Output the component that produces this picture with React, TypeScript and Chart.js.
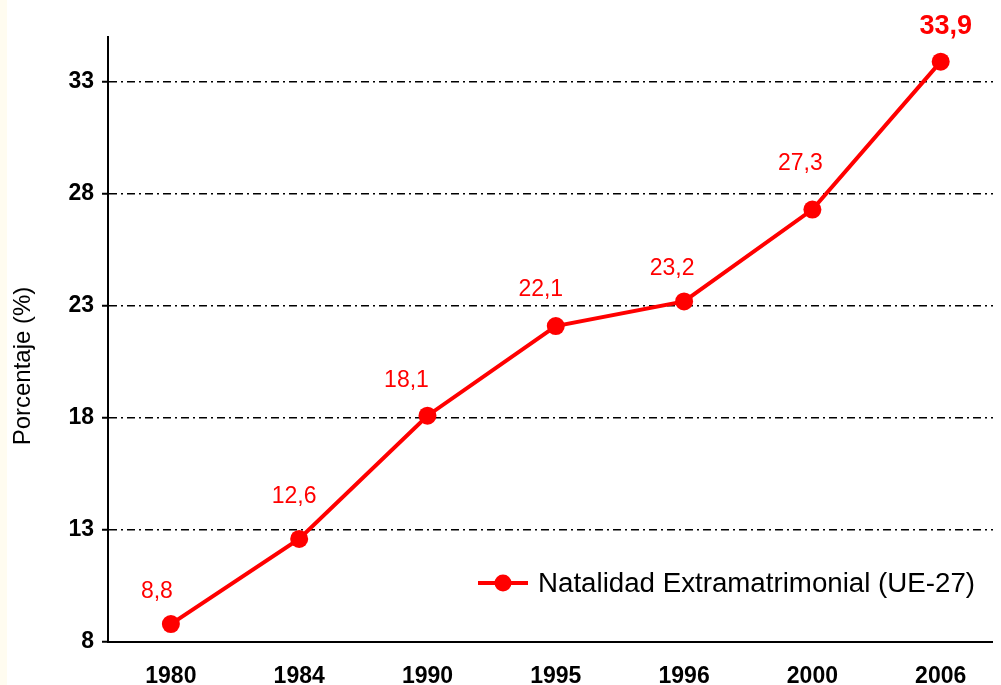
import { useEffect, useRef } from "react";
import { Chart, registerables } from "chart.js";
Chart.register(...registerables);

const years = ["1980", "1984", "1990", "1995", "1996", "2000", "2006"];
const values = [8.8, 12.6, 18.1, 22.1, 23.2, 27.3, 33.9];
const valueLabels = ["8,8", "12,6", "18,1", "22,1", "23,2", "27,3", "33,9"];
const yTicks = [8, 13, 18, 23, 28, 33];
const seriesName = "Natalidad Extramatrimonial (UE-27)";
const yTitle = "Porcentaje (%)";

// label placement relative to each point (style, not data)
const labelOffsets: number[][] = [
  [-14, -32], [-5, -42], [-21, -35], [-15, -36], [-12, -33], [-12, -46], [5, -35],
];

const RED = "#ff0000";
const FONT = "'Liberation Sans', Arial, Helvetica, sans-serif";

export default function App() {
  const ref = useRef<HTMLCanvasElement | null>(null);
  useEffect(() => {
    if (!ref.current) return;
    document.body.style.overflow = "hidden";
    document.body.style.background = "linear-gradient(to right, #fffcf0 7px, #ffffff 7px)";
    const overlay = {
      id: "overlay",
      afterDatasetsDraw(chart: any) {
        const ctx = chart.ctx;
        const meta = chart.getDatasetMeta(0);
        ctx.save();
        ctx.fillStyle = RED;
        ctx.textAlign = "center";
        ctx.textBaseline = "middle";
        meta.data.forEach((pt: any, i: number) => {
          const last = i === valueLabels.length - 1;
          ctx.font = (last ? "bold 27px " : "23px ") + FONT;
          const off = labelOffsets[i];
          ctx.fillText(valueLabels[i], pt.x + off[0], pt.y + off[1]);
        });
        ctx.restore();
      },
      afterDraw(chart: any) {
        const ctx = chart.ctx;
        ctx.save();
        ctx.translate(15, 358);
        ctx.rotate(-Math.PI / 2);
        ctx.fillStyle = "#000";
        ctx.font = "24px " + FONT;
        ctx.textAlign = "center";
        ctx.textBaseline = "middle";
        ctx.fillText(yTitle, 0, 0);
        ctx.restore();
        ctx.save();
        const ly = 575;
        ctx.strokeStyle = RED;
        ctx.lineWidth = 4;
        ctx.beginPath();
        ctx.moveTo(470, ly);
        ctx.lineTo(520, ly);
        ctx.stroke();
        ctx.fillStyle = RED;
        ctx.beginPath();
        ctx.arc(495, ly, 8.5, 0, Math.PI * 2);
        ctx.fill();
        ctx.fillStyle = "#000";
        ctx.font = "27.7px " + FONT;
        ctx.textAlign = "left";
        ctx.textBaseline = "middle";
        ctx.fillText(seriesName, 530, ly + 1);
        ctx.restore();
      },
    };
    const chart = new Chart(ref.current, {
      type: "line",
      data: {
        datasets: [
          {
            label: seriesName,
            data: values.map((v, i) => ({ x: i, y: v })),
            borderColor: RED,
            backgroundColor: RED,
            borderWidth: 4,
            pointRadius: 9,
            pointBorderWidth: 0,
            pointBackgroundColor: RED,
            tension: 0,
            clip: false as any,
          },
        ],
      },
      options: {
        animation: false,
        responsive: false,
        layout: { autoPadding: false, padding: { top: 29, right: 0, left: 0, bottom: 0 } },
        plugins: { legend: { display: false }, tooltip: { enabled: false } },
        scales: {
          x: {
            type: "linear",
            min: -0.49,
            max: 6.47,
            afterBuildTicks: (s: any) => {
              s.ticks = years.map((_, i) => ({ value: i }));
            },
            afterFit: (s: any) => {
              s.height = 43;
              s.paddingLeft = 0;
              s.paddingRight = 0;
            },
            grid: { display: false, drawTicks: false },
            border: { display: true, color: "#000", width: 2 },
            ticks: {
              padding: 21,
              color: "#000",
              font: { family: FONT, size: 23, weight: "bold" },
              callback: (v: any) => years[v as number] ?? "",
              maxRotation: 0,
              autoSkip: false,
            },
          },
          y: {
            min: 8,
            max: 35,
            afterBuildTicks: (s: any) => {
              s.ticks = yTicks.map((v) => ({ value: v }));
            },
            afterFit: (s: any) => {
              s.width = 100;
              s.paddingTop = 0;
              s.paddingBottom = 0;
            },
            grid: {
              color: "#000",
              lineWidth: 1.5,
              drawTicks: true,
              tickLength: 6,
              tickColor: "#000",
              tickWidth: 2,
            },
            border: { display: true, color: "#000", width: 2, dash: [8, 4, 2, 4] },
            ticks: {
              padding: 8,
              color: "#000",
              font: { family: FONT, size: 23, weight: "bold" },
              autoSkip: false,
            },
          },
        },
      },
      plugins: [overlay],
    });
    return () => chart.destroy();
  }, []);
  return <canvas ref={ref} width={993} height={677} style={{ display: "block" }} />;
}
